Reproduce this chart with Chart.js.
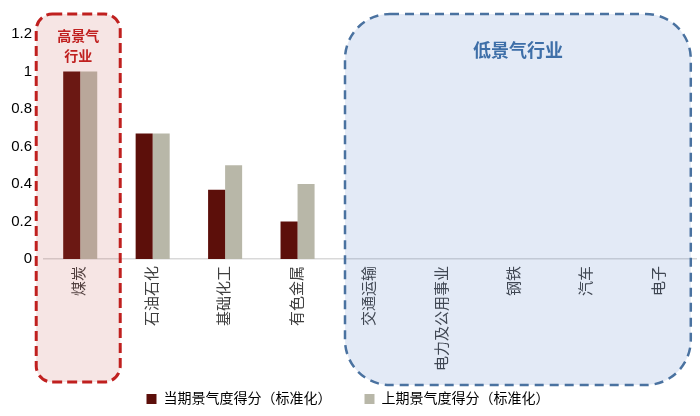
<!DOCTYPE html>
<html lang="zh">
<head>
  <meta charset="UTF-8" />
  <title>行业景气度</title>
  <style>
    body { margin: 0; background: #fff; }
    #wrap { width: 700px; height: 416px; }
  </style>
</head>
<body>
  <div id="wrap"><canvas id="chart" width="700" height="416"></canvas></div>
  <script src="https://cdn.jsdelivr.net/npm/chart.js"></script>
  <script>
const categories = ["煤炭", "石油石化", "基础化工", "有色金属", "交通运输", "电力及公用事业", "钢铁", "汽车", "电子"];
const currentScore = [1, 0.67, 0.37, 0.20, 0, 0, 0, 0, 0];
const previousScore = [1, 0.67, 0.50, 0.40, 0, 0, 0, 0, 0];
const yTicks = [0, 0.2, 0.4, 0.6, 0.8, 1, 1.2];

const FONT = "'Liberation Sans', 'Noto Sans CJK SC', sans-serif";

function roundRect(ctx, x, y, w, h, r) {
  ctx.beginPath();
  ctx.moveTo(x + r, y);
  ctx.lineTo(x + w - r, y);
  ctx.arcTo(x + w, y, x + w, y + r, r);
  ctx.lineTo(x + w, y + h - r);
  ctx.arcTo(x + w, y + h, x + w - r, y + h, r);
  ctx.lineTo(x + r, y + h);
  ctx.arcTo(x, y + h, x, y + h - r, r);
  ctx.lineTo(x, y + r);
  ctx.arcTo(x, y, x + r, y, r);
  ctx.closePath();
}

// 让长的竖排标签可以画到图例区域里，不被裁掉
const labelRoom = {
  id: "labelRoom",
  afterLayout(chart) {
    chart.scales.x.bottom = chart.height;
  }
};

// 高/低景气区域框
const zonePlugin = {
  id: "zones",
  afterDraw(chart) {
    const ctx = chart.ctx;
    const x = chart.scales.x;
    ctx.save();

    // 高景气
    let l = x.getPixelForValue(0) - 44, r = x.getPixelForValue(0) + 40;
    roundRect(ctx, l, 14, r - l, 368, 16);
    ctx.fillStyle = "rgba(192,80,77,0.15)";
    ctx.fill();
    ctx.setLineDash([10, 5]);
    ctx.lineWidth = 3;
    ctx.strokeStyle = "#C0201F";
    ctx.stroke();
    ctx.fillStyle = "#C0201F";
    ctx.font = "bold 14px 'Noto Sans CJK SC', sans-serif";
    ctx.textAlign = "center";
    ctx.textBaseline = "middle";
    ctx.fillText("高景气", (l + r) / 2, 36);
    ctx.fillText("行业", (l + r) / 2, 56);

    // 低景气
    l = x.getPixelForValue(4) - 25; r = x.getPixelForValue(8) + 31;
    roundRect(ctx, l, 14, r - l, 371, 45);
    ctx.fillStyle = "rgba(68,114,196,0.15)";
    ctx.fill();
    ctx.setLineDash([9, 6]);
    ctx.lineWidth = 2.5;
    ctx.strokeStyle = "#4A72A0";
    ctx.stroke();
    ctx.fillStyle = "#3E6FA8";
    ctx.font = "bold 18px 'Noto Sans CJK SC', sans-serif";
    ctx.fillText("低景气行业", (l + r) / 2, 50);

    ctx.restore();
  }
};

new Chart(document.getElementById("chart"), {
  type: "bar",
  data: {
    labels: categories,
    datasets: [
      {
        label: "当期景气度得分（标准化）",
        data: currentScore,
        backgroundColor: "#5C0F0A"
      },
      {
        label: "上期景气度得分（标准化）",
        data: previousScore,
        backgroundColor: "#B8B7A8"
      }
    ]
  },
  options: {
    responsive: false,
    animation: false,
    layout: { padding: { top: 34, right: 4, left: 0, bottom: 0 } },
    datasets: { bar: { categoryPercentage: 0.47, barPercentage: 1.0 } },
    scales: {
      x: {
        grid: { display: false, drawTicks: false },
        border: { color: "#D9D9D9", width: 1.5 },
        ticks: {
          minRotation: 90,
          maxRotation: 90,
          padding: 7,
          color: "#404040",
          font: { size: 15, family: FONT }
        },
        afterFit(s) { s.height = 100; }
      },
      y: {
        min: 0,
        max: 1.2,
        grid: { display: false, drawTicks: false },
        border: { display: false },
        afterBuildTicks(s) { s.ticks = yTicks.map(v => ({ value: v })); },
        ticks: {
          padding: 12,
          color: "#000",
          font: { size: 15, family: FONT },
          callback: v => String(Math.round(v * 10) / 10)
        },
        afterFit(s) { s.width = 44; }
      }
    },
    plugins: {
      legend: {
        position: "bottom",
        labels: {
          boxWidth: 10,
          boxHeight: 10,
          padding: 33,
          color: "#000",
          font: { size: 14, family: FONT }
        }
      },
      tooltip: { enabled: false }
    }
  },
  plugins: [labelRoom, zonePlugin]
});
  </script>
</body>
</html>
